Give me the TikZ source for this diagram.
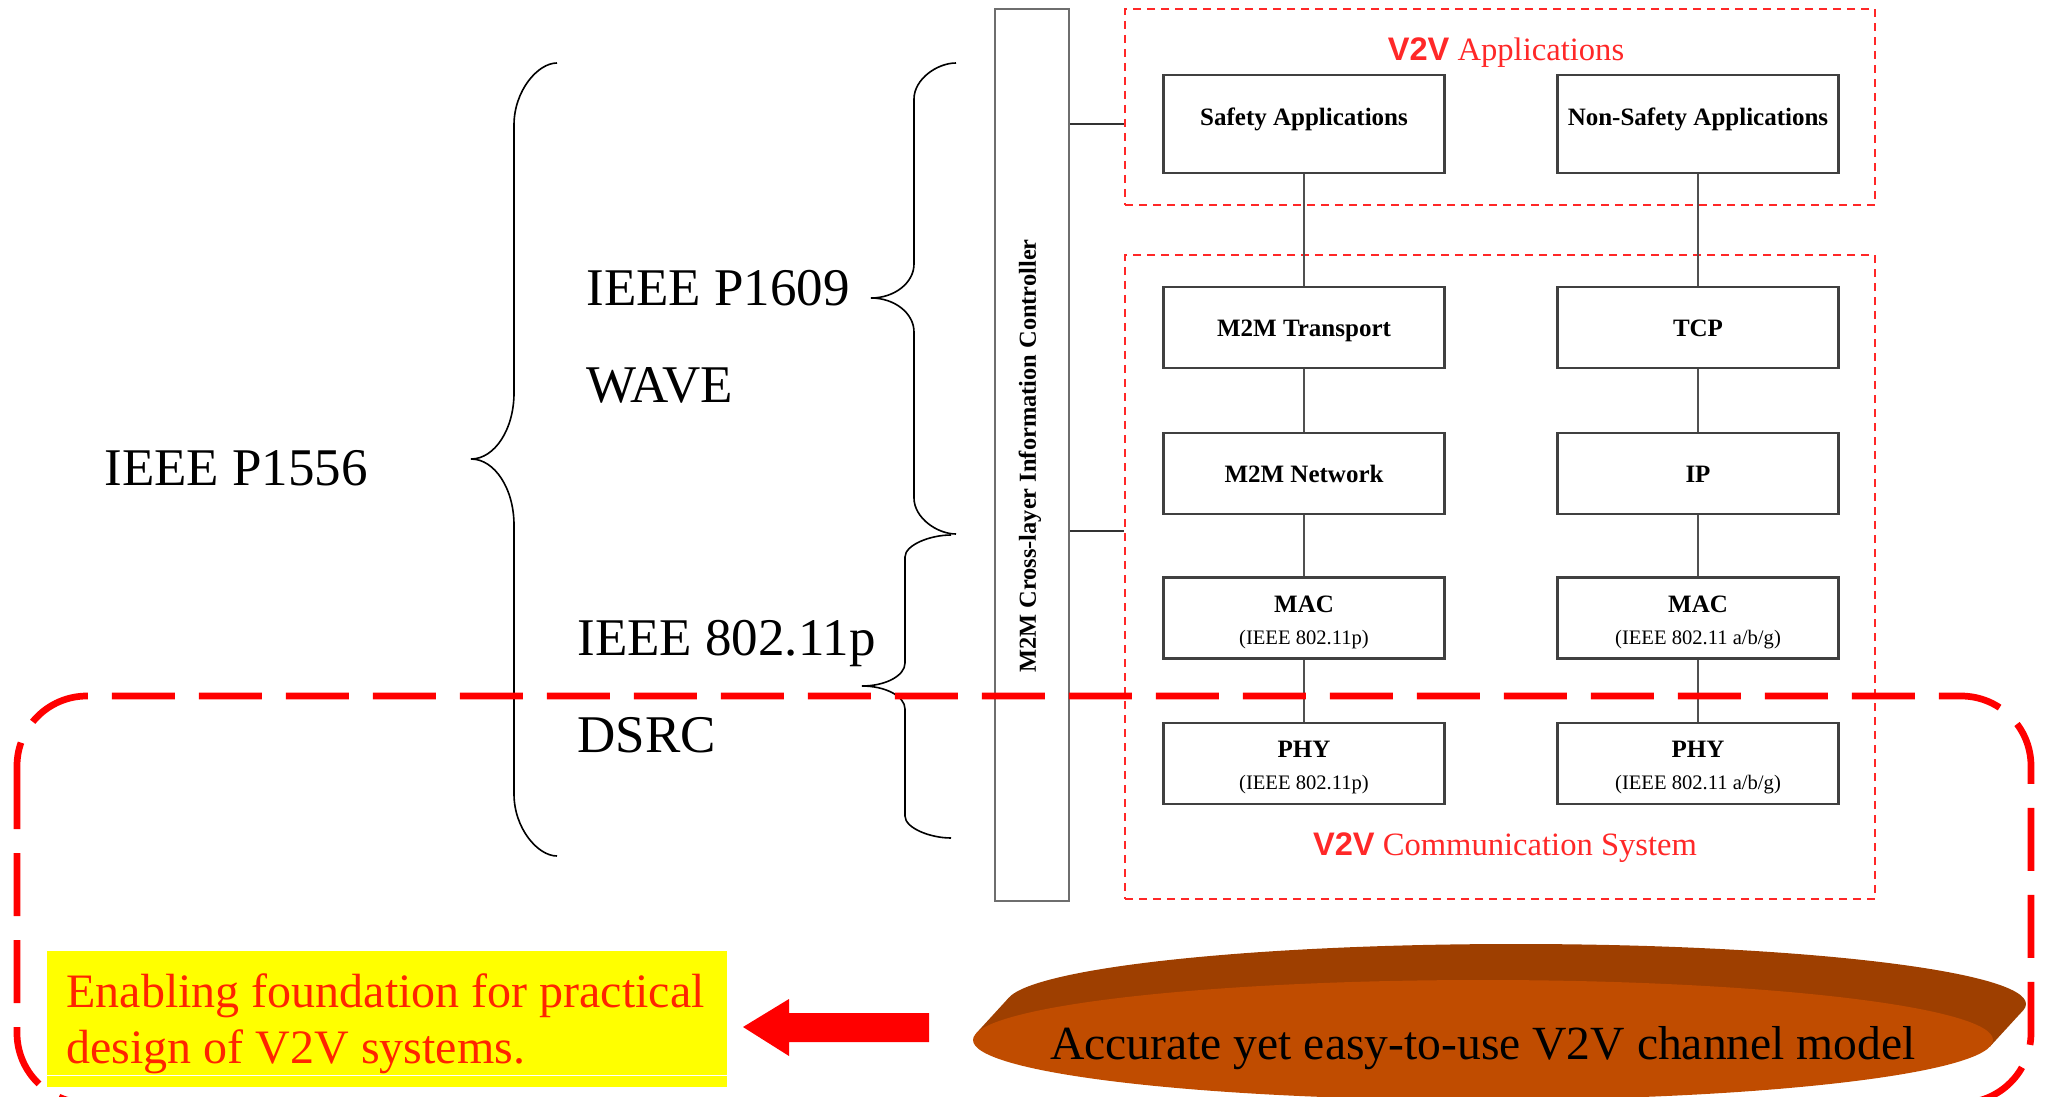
\documentclass[tikz,border=0pt]{standalone}
\usepackage{fontspec}
\setmainfont{Liberation Serif}
\newfontfamily\labelsans{Liberation Sans}
\usetikzlibrary{shapes.geometric}

\definecolor{framered}{RGB}{255,40,40}
\definecolor{bigred}{RGB}{255,0,0}
\definecolor{boxline}{RGB}{64,64,64}
\definecolor{barline}{RGB}{110,110,110}
\definecolor{wireline}{RGB}{80,80,80}
\definecolor{diskdark}{RGB}{158,63,0}
\definecolor{disklight}{RGB}{192,76,0}
\definecolor{goalyellow}{RGB}{255,255,0}
\definecolor{goaltext}{RGB}{255,36,0}

\newcommand\bigfont{\fontsize{26.5pt}{32pt}\selectfont}
\newcommand\boxfont{\fontsize{12.5pt}{15pt}\selectfont\bfseries}
\newcommand\parenfont{\fontsize{10.3pt}{12pt}\selectfont\mdseries}
\newcommand\ctrlfont{\fontsize{12.2pt}{14pt}\selectfont\bfseries}
\newcommand\framefont{\fontsize{16.3pt}{19pt}\selectfont}
\newcommand\goalfont{\fontsize{24pt}{28pt}\selectfont}
\newcommand\modelfont{\fontsize{23.8pt}{28pt}\selectfont}

% curly brace opening to the right:
% #1 x of the ends, #2 x of the stem, #3 x of the tip,
% #4 top y, #5 tip y, #6 bottom y, #7 end curl height, #8 tip curl height
\newcommand\drawbrace[8]{%
  \draw[bracestyle] (#1,#4)
    .. controls ({#2+0.55*(#1-#2)},#4) and (#2,{#4+0.45*#7}) .. (#2,{#4+#7})
    -- (#2,{#5-#8})
    .. controls (#2,{#5-0.45*#8}) and ({#3+0.55*(#2-#3)},#5) .. (#3,#5)
    .. controls ({#3+0.55*(#2-#3)},#5) and (#2,{#5+0.45*#8}) .. (#2,{#5+#8})
    -- (#2,{#6-#7})
    .. controls (#2,{#6-0.45*#7}) and ({#2+0.55*(#1-#2)},#6) .. (#1,#6);}

\tikzset{
  bracestyle/.style={draw=black, line width=0.8pt},
  framebox/.style={draw=framered, line width=1.4pt, dash pattern=on 4pt off 3pt, inner sep=0pt},
  layerbox/.style={draw=boxline, line width=1.1pt, fill=white, minimum width=140.5pt,
                   inner sep=2pt, align=center, font=\boxfont},
  oneline/.style={layerbox, minimum height=40.5pt, text height=8.5pt, text depth=0pt},
  twoline/.style={layerbox, minimum height=40.5pt},
  wire/.style={draw=wireline, line width=0.9pt},
  ctrllink/.style={draw=black!80, line width=1.3pt},
  bigtext/.style={anchor=base west, inner sep=0pt, font=\bigfont},
  bigframe/.style={draw=bigred, line width=3.35pt, dash pattern=on 31.5pt off 12pt, rounded corners=35pt},
}

\begin{document}
\begin{tikzpicture}[x=0.5pt, y=-0.5pt]
\useasboundingbox (0,0) rectangle (2046,1097);
\begin{scope}
\clip (0,0) rectangle (2046,1097);

% channel model disk: rim swept behind the front face
\fill[diskdark] (976,1033.5) -- (1990,1046.5) -- (2023,1010.5) -- (1009,997.5) -- cycle;
\fill[diskdark] (1516,1004) ellipse [x radius=255pt, y radius=30pt];
\node (model) [ellipse, fill=disklight, minimum width=510pt, minimum height=60pt, inner sep=0pt] at (1483,1040) {};
\node (modeltext) [anchor=base, inner sep=0pt, font=\modelfont] at (1483,1059) {Accurate yet easy-to-use V2V channel model};

% goal box and block arrow
\node (goal) [fill=goalyellow, minimum width=340pt, minimum height=68pt, inner sep=0pt] at (387,1019) {};
\node (goaltext) [anchor=base west, inner sep=0pt, align=left, font=\goalfont, text=goaltext]
  at (66,1063) {Enabling foundation for practical\\design of V2V systems.};
\draw[white, line width=0.6pt] ([yshift=6pt]goal.south west) -- ([yshift=6pt]goal.south east);
\fill[bigred] (743,1027) -- (789,999) -- (789,1013) -- (929,1013) -- (929,1042)
  -- (789,1042) -- (789,1056) -- cycle;

% cross-layer controller
\node (ctrl) [draw=barline, line width=1pt, minimum width=37pt, minimum height=445.5pt, inner sep=0pt] at (1032,455) {};
\node (ctrltext) [rotate=90, inner sep=0pt, font=\ctrlfont] at (1030,456) {M2M Cross-layer Information Controller};

% dashed groups
\node (appframe) [framebox, minimum width=375pt, minimum height=98pt] at (1500,107) {};
\node (commframe) [framebox, minimum width=375pt, minimum height=322pt] at (1500,577) {};
\node (applabel) [anchor=base, inner sep=0pt, text=framered, font=\framefont] at (1506,61)
  {{\labelsans\bfseries V2V} Applications};
\node (commlabel) [anchor=base, inner sep=0pt, text=framered, font=\framefont] at (1505,855)
  {{\labelsans\bfseries V2V} Communication System};

% layer stacks
\node (saf)  [layerbox, minimum height=49pt, text height=8.5pt, text depth=7pt] at (1304,124) {Safety Applications};
\node (nsaf) [layerbox, minimum height=49pt, text height=8.5pt, text depth=7pt] at (1698,124) {Non-Safety Applications};
\node (mtr)  [oneline] at (1304,327.5) {M2M Transport};
\node (tcp)  [oneline] at (1698,327.5) {TCP};
\node (mnet) [oneline] at (1304,473.5) {M2M Network};
\node (ip)   [oneline] at (1698,473.5) {IP};
\node (mac1) [twoline] at (1304,618) {\rule{0pt}{12.5pt}MAC\\[1pt]{\parenfont (IEEE 802.11p)}};
\node (mac2) [twoline] at (1698,618) {\rule{0pt}{12.5pt}MAC\\[1pt]{\parenfont (IEEE 802.11 a/b/g)}};
\node (phy1) [twoline] at (1304,763.5) {\rule{0pt}{12.5pt}PHY\\[1pt]{\parenfont (IEEE 802.11p)}};
\node (phy2) [twoline] at (1698,763.5) {\rule{0pt}{12.5pt}PHY\\[1pt]{\parenfont (IEEE 802.11 a/b/g)}};

\draw[wire] (saf.south) -- (mtr.north);
\draw[wire] (mtr.south) -- (mnet.north);
\draw[wire] (mnet.south) -- (mac1.north);
\draw[wire] (mac1.south) -- (phy1.north);
\draw[wire] (nsaf.south) -- (tcp.north);
\draw[wire] (tcp.south) -- (ip.north);
\draw[wire] (ip.south) -- (mac2.north);
\draw[wire] (mac2.south) -- (phy2.north);

\coordinate (linkA) at (0,124);
\coordinate (linkB) at (0,531);
\draw[ctrllink] (ctrl.east |- linkA) -- (appframe.west |- linkA);
\draw[ctrllink] (ctrl.east |- linkB) -- (commframe.west |- linkB);

% standards and braces
\node (p1556) [bigtext] at (104,485) {IEEE P1556};
\node (p1609) [bigtext] at (586,305) {IEEE P1609};
\node (wave)  [bigtext] at (586,402) {WAVE};
\node (p80211) [bigtext] at (577,655) {IEEE 802.11p};
\node (dsrc)  [bigtext] at (577,752) {DSRC};

\drawbrace{557}{514}{471}{63}{459}{856}{62}{66}
\drawbrace{956}{914}{871}{63}{298}{534}{36}{34}
\drawbrace{951}{905}{862}{535}{686}{838}{22}{23}

% channel-model scope
\draw[bigframe] (17,696) rectangle (2031,1103);
\end{scope}
\end{tikzpicture}
\end{document}
